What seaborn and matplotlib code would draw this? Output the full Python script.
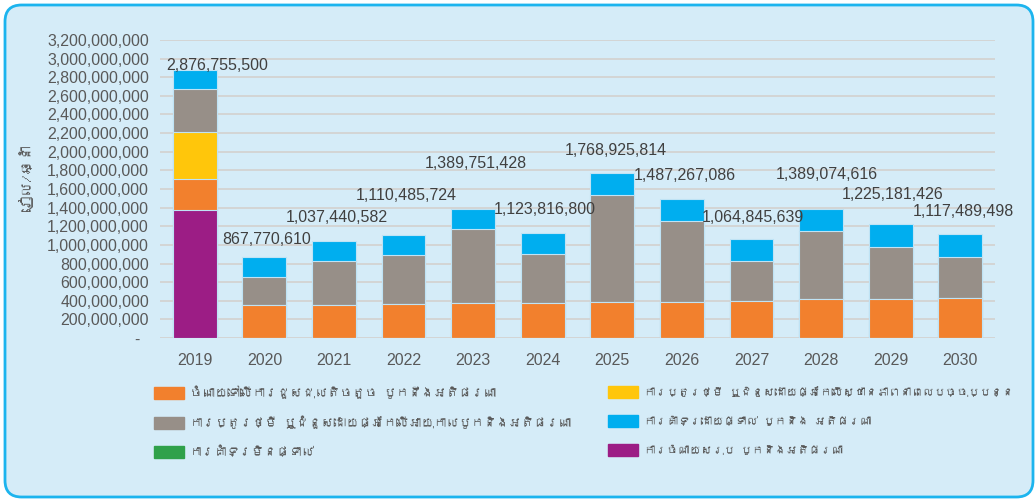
import numpy as np
import pandas as pd
import matplotlib
matplotlib.use("Agg")
import matplotlib.pyplot as plt
import seaborn as sns
from matplotlib import font_manager as fm
from matplotlib.ft2font import FT2Font
from matplotlib.patches import FancyBboxPatch, Patch

# ---------------- data ----------------
years = ["2019", "2020", "2021", "2022", "2023", "2024", "2025",
         "2026", "2027", "2028", "2029", "2030"]
total_spend = [1370e6, 0, 0, 0, 0, 0, 0, 0, 0, 0, 0, 0]                 # purple
minor_repair = [340e6, 351e6, 358e6, 368e6, 373e6, 376e6, 387e6,
                390e6, 401e6, 416e6, 419e6, 433e6]                          # orange
replace_condition = [505e6, 0, 0, 0, 0, 0, 0, 0, 0, 0, 0, 0]              # yellow
replace_age = [455e6, 307e6, 466e6, 523e6, 794e6, 523e6, 1149e6,
               863e6, 423e6, 730e6, 555e6, 434e6]                           # gray
indirect_support = [0] * 12                                                 # green
totals = [2876755500, 867770610, 1037440582, 1110485724, 1389751428,
          1123816800, 1768925814, 1487267086, 1064845639, 1389074616,
          1225181426, 1117489498]
# direct support (blue) = remainder of total
direct_support = [t - a - b - c - d for t, a, b, c, d in
                  zip(totals, total_spend, minor_repair, replace_condition, replace_age)]

legend_labels = {
    "minor": "ចំណាយទៅលើការជួសជុលតិចតួច បូកនឹងអតិផរណា",
    "cond": "ការប្តូរថ្មី ឬជំនួសដោយផ្អែកលើស្ថានភាពនាពេលបច្ចុប្បន្ន",
    "age": "ការប្តូរថ្មី ឬជំនួសដោយផ្អែកលើអាយុកាលបូកនិងអតិផរណា",
    "direct": "ការគាំទ្រដោយផ្ទាល់ បូកនិង អតិផរណា",
    "indirect": "ការគាំទ្រមិនផ្ទាល់",
    "total": "ការចំណាយសរុប បូកនិងអតិផរណា",
}
ylabel_text = "រៀល/ឆ្នាំ"

# ---------------- style ----------------
C_ORANGE = "#F2802D"
C_YELLOW = "#FFC60B"
C_GRAY = "#978F88"
C_BLUE = "#00AEEF"
C_GREEN = "#2FA14A"
C_PURPLE = "#9C1D85"
BG = "#D5ECF8"
TXT = "#595959"

sns.set_theme(style="white")

# find a font with Khmer glyphs
khmer_font = None
for f in fm.fontManager.ttflist:
    try:
        if 0x1780 in FT2Font(f.fname).get_charmap():
            khmer_font = f.name
            break
    except Exception:
        pass
num_font = "Liberation Sans"
kh_family = [khmer_font, "DejaVu Sans"] if khmer_font else ["DejaVu Sans"]
plt.rcParams["font.family"] = [num_font, "DejaVu Sans"]

W, H = 1035, 499
fig = plt.figure(figsize=(W / 100, H / 100), dpi=100, facecolor="white")

# rounded panel background
panel = FancyBboxPatch((5 / W, 2 / H), (1028 / W), (492 / H),
                       boxstyle="round,pad=0,rounding_size=0.016",
                       transform=fig.transFigure, facecolor=BG,
                       edgecolor="#1CB4EE", linewidth=2, zorder=-10,
                       mutation_aspect=W / H)
fig.patches.append(panel)

ax = fig.add_axes([160 / W, 1 - 338 / H, 835 / W, 298 / H])
ax.set_zorder(1)
ax.set_facecolor("none")

df = pd.DataFrame({
    "year": years,
    "purple": total_spend,
    "orange": minor_repair,
    "yellow": replace_condition,
    "gray": replace_age,
    "blue": direct_support,
})
layers = [("purple", C_PURPLE), ("orange", C_ORANGE), ("yellow", C_YELLOW),
          ("gray", C_GRAY), ("blue", C_BLUE)]
cum = np.zeros(len(years))
cums = []
for name, col in layers:
    cum = cum + df[name].to_numpy(dtype=float)
    cums.append((name, col, cum.copy()))

for name, col, c in reversed(cums):
    sns.barplot(x=df["year"], y=c, color=col, width=0.63, ax=ax,
                edgecolor="#BFE3F5", linewidth=0.8, saturation=1, zorder=3)

ax.set_ylim(0, 3.2e9)
ax.set_xlim(-0.5, len(years) - 0.5)
yt = np.arange(0, 3.2e9 + 1, 2e8)
ax.set_yticks(yt)
ax.set_yticklabels(["-  " if v == 0 else f"{int(v):,}" for v in yt],
                   fontsize=11.5, color=TXT)
ax.tick_params(axis="y", length=0, pad=8)
ax.tick_params(axis="x", length=0, pad=11, labelsize=11.5, labelcolor=TXT)
ax.set_xlabel("")
ax.set_ylabel("")
ax.grid(axis="y", color="#D3D5D5", linewidth=1.4, zorder=0)
ax.set_axisbelow(True)
for s in ax.spines.values():
    s.set_visible(False)

# total labels (offsets in pixels relative to bar top)
lab_dx = [22, 2, 2.5, 3, 2.5, 2.5, 3.5, 2.5, 1, 5.5, 2.5, 3.5]
lab_dy = [5, 18, 23.5, 39, 45, 24, 23, 24, 21.5, 34, 29, 22]
for i, t in enumerate(totals):
    ax.annotate(f"{t:,}", xy=(i, t), xytext=(lab_dx[i], lab_dy[i]),
                textcoords="offset pixels", ha="center", va="center",
                fontsize=11.5, color="#404040", zorder=5)

fig.text(27 / W, 1 - 178 / H, ylabel_text, rotation=90, ha="center",
         va="center", fontsize=10.5, color=TXT, family=kh_family)

col1 = [
    Patch(color=C_ORANGE, label=legend_labels["minor"]),
    Patch(color=C_GRAY, label=legend_labels["age"]),
    Patch(color=C_GREEN, label=legend_labels["indirect"]),
]
col2 = [
    Patch(color=C_YELLOW, label=legend_labels["cond"]),
    Patch(color=C_BLUE, label=legend_labels["direct"]),
    Patch(color=C_PURPLE, label=legend_labels["total"]),
]
for handles, x0, fs in ((col1, 151, 9), (col2, 605, 8.2)):
    leg = fig.legend(handles=handles, ncol=1, loc="upper left",
                     bbox_to_anchor=(x0 / W, 1 - 383.5 / H), frameon=False,
                     prop={"family": kh_family, "size": fs},
                     handlelength=2.4 * 9 / fs, handleheight=1.12 * 9 / fs,
                     handletextpad=0.5 * 9 / fs,
                     labelspacing=1.3 * 9 / fs + (0.06 if fs < 9 else 0),
                     borderaxespad=0, borderpad=0.2 * 9 / fs)
    for t in leg.get_texts():
        t.set_color(TXT)

fig.savefig("out.png", dpi=100, facecolor="white")
